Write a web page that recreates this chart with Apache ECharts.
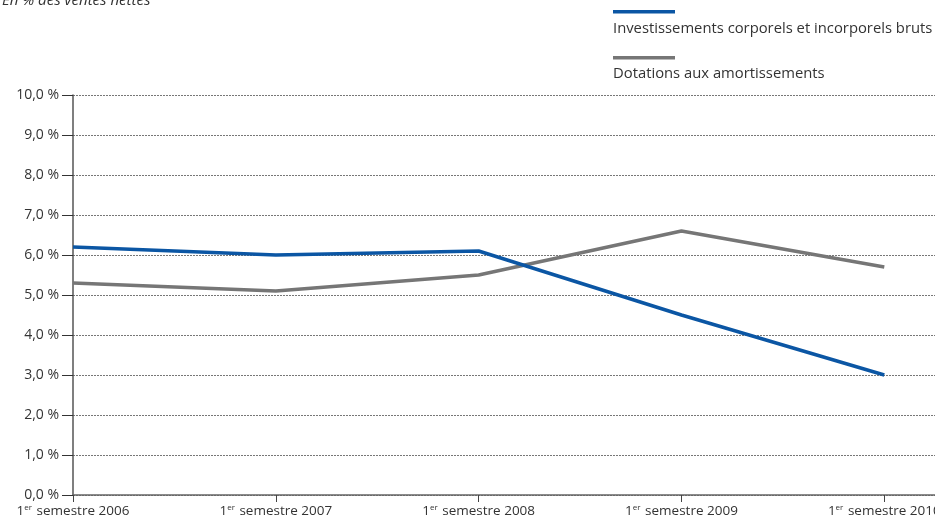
<!DOCTYPE html>
<html>
<head>
<meta charset="utf-8">
<script src="https://cdn.jsdelivr.net/npm/echarts@6/dist/echarts.min.js"></script>
<style>html,body{margin:0;padding:0;background:#fff}#c{width:935px;height:521px}</style>
</head>
<body>
<div id="c"></div>
<script>
const title = 'En % des ventes nettes';
const categories = ['2006', '2007', '2008', '2009', '2010'];
const seriesNames = ['Investissements corporels et incorporels bruts', 'Dotations aux amortissements'];
const investissements = [6.2, 6.0, 6.1, 4.5, 3.0];
const dotations = [5.3, 5.1, 5.5, 6.6, 5.7];
const yTicks = [0, 1, 2, 3, 4, 5, 6, 7, 8, 9, 10];

const colors = ['#0b56a4', '#767676'];
const font = 'Open Sans';
const chart = echarts.init(document.getElementById('c'));
const catIdx = categories.map((c, i) => i);

chart.setOption({
  animation: false,
  grid: { left: 73, right: 0, top: 95, bottom: 26, outerBoundsMode: 'none', containLabel: false },
  graphic: [
    { type: 'text', x: 0, y: 0, style: { x: 2, y: 8, text: title, font: 'italic 15px "' + font + '"', fill: '#333', verticalAlign: 'bottom' } },
    { type: 'rect', shape: { x: 613, y: 10, width: 62, height: 3.5 }, style: { fill: colors[0] } },
    { type: 'text', left: 613, top: 21, style: { text: seriesNames[0], font: '14.8px "' + font + '"', fill: '#333' } },
    { type: 'rect', shape: { x: 613, y: 56, width: 62, height: 3.5 }, style: { fill: colors[1] } },
    { type: 'text', left: 613, top: 66, style: { text: seriesNames[1], font: '14.8px "' + font + '"', fill: '#333' } }
  ],
  xAxis: {
    type: 'value', min: 0, max: 4.25, interval: 1,
    axisLine: { lineStyle: { color: '#666', width: 1.5 } },
    axisTick: { show: true, length: 7, customValues: catIdx, lineStyle: { color: '#444' } },
    splitLine: { show: false },
    axisLabel: {
      customValues: catIdx, margin: 9, color: '#333', fontFamily: font, fontSize: 13.5,
      formatter: v => '{a|1}{s|er}{a| semestre ' + categories[Math.round(v)] + '}',
      rich: {
        a: { fontFamily: font, fontSize: 13.5, color: '#333' },
        s: { fontFamily: font, fontSize: 8, color: '#333', verticalAlign: 'top', padding: [0, 1, 5, 0] }
      }
    }
  },
  yAxis: {
    type: 'value', min: 0, max: 10, interval: 1,
    axisLine: { show: true, lineStyle: { color: '#555', width: 1.5 } },
    axisTick: { show: true, length: 11, lineStyle: { color: '#333' } },
    axisLabel: {
      margin: 14, color: '#333', fontFamily: font, fontSize: 14,
      formatter: v => yTicks.includes(v) ? v.toFixed(1).replace('.', ',') + ' %' : ''
    },
    splitLine: { show: true, lineStyle: { color: '#777', type: [2, 1], width: 1 } }
  },
  series: [
    { name: seriesNames[0], type: 'line', data: investissements.map((v, i) => [i, v]), symbol: 'none', lineStyle: { color: colors[0], width: 3.5 }, z: 3 },
    { name: seriesNames[1], type: 'line', data: dotations.map((v, i) => [i, v]), symbol: 'none', lineStyle: { color: colors[1], width: 3.5 }, z: 2 }
  ]
});
</script>
</body>
</html>
